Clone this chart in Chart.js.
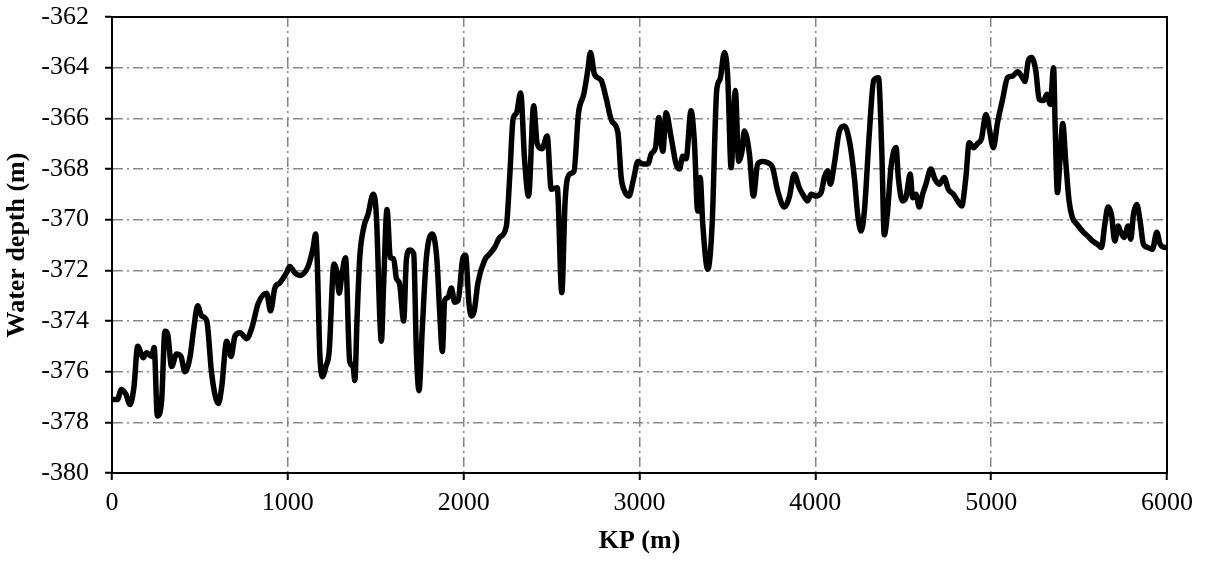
<!DOCTYPE html>
<html>
<head>
<meta charset="utf-8">
<script src="https://cdn.jsdelivr.net/npm/chart.js@4.4.1/dist/chart.umd.min.js"></script>
<style>
  html, body { margin: 0; padding: 0; background: #fff; }
  #wrap { width: 1205px; height: 562px; }
</style>
</head>
<body>
<div id="wrap"><canvas id="depthChart" width="1205" height="562"></canvas></div>
<script>
// KP along the route (m) and the water depth read at each point (m)
const kp = [
  0, 30, 54, 80, 102, 125, 146, 178, 197, 225, 240, 258, 282, 301, 316, 339, 367, 392, 415, 443,
  465, 487, 510, 539, 567, 605, 624, 652, 677, 699, 728, 766, 794, 832, 879, 902, 926, 954, 992, 1011,
  1040, 1068, 1115, 1144, 1158, 1167, 1182, 1197, 1216, 1235, 1262, 1277, 1292, 1305, 1328, 1352, 1371, 1381, 1394, 1409,
  1432, 1456, 1485, 1504, 1523, 1532, 1545, 1564, 1583, 1602, 1617, 1636, 1659, 1674, 1693, 1716, 1731, 1746, 1765, 1788,
  1822, 1848, 1864, 1879, 1892, 1911, 1930, 1949, 1968, 1996, 2011, 2030, 2044, 2060, 2081, 2119, 2148, 2176, 2205, 2243,
  2262, 2281, 2300, 2324, 2347, 2369, 2398, 2418, 2445, 2475, 2498, 2532, 2558, 2577, 2602, 2627, 2653, 2683, 2706, 2721,
  2744, 2782, 2810, 2842, 2877, 2896, 2915, 2940, 2966, 2991, 3019, 3048, 3067, 3091, 3110, 3124, 3133, 3151, 3180, 3208,
  3227, 3246, 3265, 3293, 3312, 3331, 3345, 3360, 3388, 3413, 3439, 3458, 3483, 3502, 3521, 3545, 3564, 3583, 3596, 3625,
  3648, 3672, 3701, 3729, 3757, 3786, 3824, 3852, 3880, 3909, 3937, 3956, 3976, 4004, 4033, 4051, 4070, 4085, 4108, 4137,
  4165, 4194, 4222, 4241, 4260, 4279, 4307, 4332, 4359, 4378, 4392, 4411, 4430, 4459, 4472, 4496, 4515, 4540, 4553, 4572,
  4591, 4610, 4629, 4657, 4680, 4705, 4733, 4756, 4786, 4809, 4832, 4856, 4875, 4900, 4922, 4945, 4970, 4989, 5012, 5036,
  5065, 5093, 5122, 5150, 5179, 5192, 5211, 5230, 5254, 5273, 5298, 5317, 5336, 5355, 5364, 5377, 5392, 5407, 5424, 5443,
  5462, 5490, 5519, 5548, 5576, 5604, 5627, 5646, 5665, 5684, 5703, 5722, 5737, 5756, 5779, 5794, 5809, 5828, 5847, 5866,
  5893, 5917, 5942, 5961, 5993, 6000
];
const depth = [
  -377.1, -377.1, -376.7, -376.9, -377.3, -376.6, -375.0, -375.45, -375.25, -375.4, -375.05, -377.75, -377.16, -374.4, -374.5, -375.8, -375.3, -375.4, -376.0, -375.45,
  -374.3, -373.4, -373.8, -374.0, -376.1, -377.26, -376.6, -374.8, -375.4, -374.6, -374.46, -374.7, -374.3, -373.3, -372.9, -373.6, -372.7, -372.5, -372.1, -371.85,
  -372.1, -372.2, -371.85, -371.1, -370.57, -371.6, -375.3, -376.2, -375.8, -375.2, -371.75, -372.0, -372.9, -372.3, -371.5, -375.6, -375.8, -376.35, -373.85, -371.5,
  -370.3, -369.8, -369.0, -369.9, -373.85, -374.8, -372.5, -369.6, -371.5, -371.55, -372.3, -372.55, -374.0, -371.6, -371.2, -371.35, -375.2, -376.75, -374.25, -371.5,
  -370.57, -371.6, -373.7, -375.2, -373.2, -373.07, -372.7, -373.26, -373.2, -371.5, -371.4, -373.3, -373.8, -373.6, -372.5, -371.6, -371.35, -371.1, -370.7, -370.25,
  -368.3, -366.04, -365.8, -365.0, -367.7, -369.07, -365.5, -367.0, -367.2, -366.7, -368.8, -368.74, -372.88, -369.26, -368.2, -368.1, -365.8, -365.05, -364.1, -363.4,
  -364.26, -364.5, -365.2, -366.1, -366.56, -368.34, -368.87, -369.07, -368.4, -367.7, -367.8, -367.8, -367.4, -367.15, -365.97, -367.0, -367.3, -365.78, -366.76, -367.8,
  -368.0, -367.5, -367.6, -365.7, -366.9, -369.66, -368.34, -370.2, -371.96, -370.2, -364.9, -364.46, -363.4, -364.4, -367.95, -364.9, -367.7, -367.3, -366.5, -367.4,
  -369.07, -367.8, -367.7, -367.75, -367.95, -368.87, -369.5, -369.1, -368.2, -368.74, -369.1, -369.26, -369.0, -369.07, -368.93, -368.34, -368.07, -368.6, -367.8, -366.5,
  -366.3, -366.9, -368.34, -369.8, -370.45, -369.66, -366.6, -364.5, -364.4, -367.3, -370.6, -369.66, -367.95, -367.15, -368.34, -369.26, -369.13, -368.2, -369.13, -369.0,
  -369.5, -369.0, -368.6, -368.0, -368.4, -368.6, -368.34, -368.8, -369.0, -369.26, -369.46, -368.34, -366.96, -367.16, -367.0, -366.8, -365.85, -366.4, -367.16, -366.17,
  -365.25, -364.4, -364.33, -364.16, -364.4, -364.55, -363.74, -363.6, -364.13, -365.25, -365.3, -365.05, -365.45, -364.0, -366.37, -368.93, -367.55, -366.2, -367.7, -369.26,
  -369.92, -370.2, -370.45, -370.64, -370.84, -370.97, -371.1, -370.2, -369.5, -369.8, -370.84, -370.25, -370.5, -370.7, -370.25, -370.77, -369.8, -369.4, -370.05, -370.97,
  -371.1, -371.17, -370.5, -370.97, -371.1, -371.1
];

// axis ranges and tick steps
const xRange = [0, 6000];
const xStep = 1000;
const yRange = [-380, -362];
const yStep = 2;

const serif = "'Times New Roman', 'Liberation Serif', serif";
const gridDash = [10, 4, 2, 4];

// draws the top and right edges of the plot box
const frame = {
  id: 'frame',
  afterDraw(chart) {
    const { ctx, chartArea: a } = chart;
    ctx.save();
    ctx.strokeStyle = '#000';
    ctx.lineWidth = 2;
    ctx.strokeRect(a.left, a.top, a.right - a.left, a.bottom - a.top);
    ctx.restore();
  }
};

new Chart(document.getElementById('depthChart'), {
  type: 'line',
  data: {
    datasets: [{
      data: kp.map((x, i) => ({ x, y: depth[i] })),
      borderColor: '#000',
      borderWidth: 5.5,
      pointRadius: 0,
      cubicInterpolationMode: 'monotone',
      fill: false
    }]
  },
  options: {
    responsive: false,
    devicePixelRatio: 1,
    animation: false,
    layout: { padding: { top: 17, right: 38, left: 0, bottom: 0 } },
    plugins: { legend: { display: false }, tooltip: { enabled: false } },
    scales: {
      x: {
        type: 'linear',
        min: xRange[0], max: xRange[1],
        afterFit: (s) => { s.height = 89; s.paddingLeft = 0; s.paddingRight = 0; },
        ticks: { stepSize: xStep, padding: 8, color: '#000', font: { family: serif, size: 26 }, callback: (v) => String(v) },
        grid: { color: '#888', lineWidth: 1.5, tickColor: '#000', tickLength: 7, tickWidth: 2 },
        border: { color: '#000', width: 2, dash: gridDash },
        title: { display: true, text: 'KP (m)', color: '#000', font: { family: serif, size: 26, weight: 'bold' }, padding: { bottom: 5 } }
      },
      y: {
        min: yRange[0], max: yRange[1],
        afterFit: (s) => { s.width = 112; s.paddingTop = 0; s.paddingBottom = 0; },
        ticks: { stepSize: yStep, padding: 16, color: '#000', font: { family: serif, size: 26 } },
        grid: { color: '#888', lineWidth: 1.5, tickColor: '#000', tickLength: 7, tickWidth: 2 },
        border: { color: '#000', width: 2, dash: gridDash },
        title: { display: true, text: 'Water depth (m)', color: '#000', font: { family: serif, size: 26, weight: 'bold' }, padding: { top: 2 } }
      }
    }
  },
  plugins: [frame]
});
</script>
</body>
</html>
